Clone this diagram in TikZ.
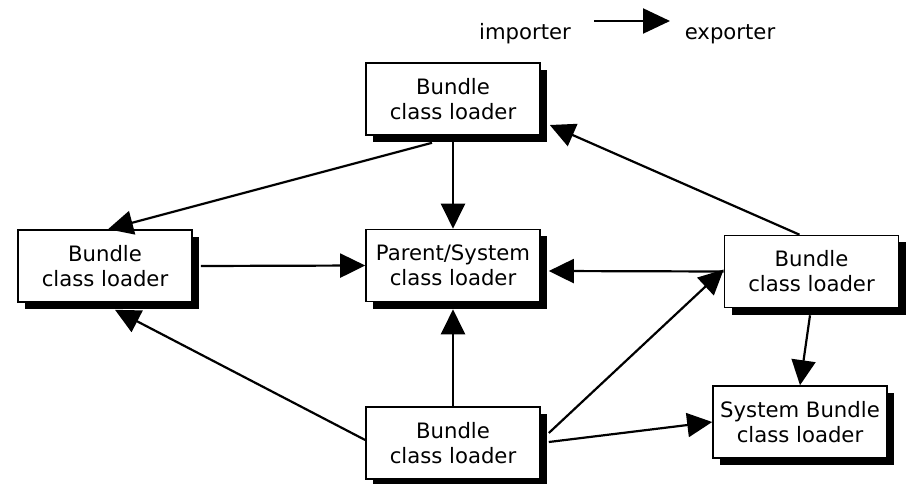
\documentclass[tikz,border=0pt]{standalone}
\usepackage{fontspec}
\setmainfont{DejaVu Sans}
\usetikzlibrary{arrows.meta,shadows,calc}
\begin{document}
\begin{tikzpicture}[x=1pt,y=-1pt,
  loader/.style={draw=black, line width=1.6pt, fill=white,
    minimum width=174pt, minimum height=72pt, inner sep=0pt,
    align=center, font=\fontsize{21.2}{25}\selectfont,
    drop shadow={shadow xshift=7pt, shadow yshift=-7pt, fill=black, opacity=1}},
  label/.style={font=\fontsize{21.2}{25}\selectfont, inner sep=0pt},
  arr/.style={line width=2.2pt, -{Triangle[length=25pt,width=24pt]}}]
\useasboundingbox (0,0) rectangle (906,484);

% legend
\node[label] (imp) at (525,34) {importer};
\node[label] (exp) at (730,34) {exporter};
\coordinate (la) at (594,21);
\coordinate (lb) at (670,21);
\draw[line width=2.2pt, -{Triangle[length=27pt,width=25pt]}] (la) -- (lb);

% class loaders
\node[loader] (top)    at (453,99)    {Bundle\\class loader};
\node[loader] (left)   at (105,266)   {Bundle\\class loader};
\node[loader] (center) at (453,265.5) {Parent/System\\class loader};
\node[loader] (right)  at (811.5,271.5) {Bundle\\class loader};
\node[loader] (sys)    at (800,422)   {System Bundle\\class loader};
\node[loader] (bottom) at (453,443)   {Bundle\\class loader};

% import relations
\draw[arr] (top.south) -- (center.north);
\draw[arr] ([xshift=-21pt,yshift=-7pt]top.south) -- ([xshift=3pt]left.north);
\draw[arr] ([xshift=8pt]left.east) -- (center.west);
\draw[arr] (right.west) -- ([xshift=8pt,yshift=-5.5pt]center.east);
\draw[arr] ([xshift=-12pt]right.north) -- ([xshift=9pt,yshift=-26pt]top.east);
\draw[arr] (bottom.north) -- ([yshift=-7pt]center.south);
\draw[arr] ([yshift=3pt]bottom.west) -- ([xshift=10pt,yshift=-7pt]left.south);
\draw[arr] ([xshift=8pt,yshift=10pt]bottom.east) -- ([yshift=2pt]right.west);
\draw[arr] ([xshift=8pt,yshift=1pt]bottom.east) -- (sys.west);
\draw[arr] ([xshift=-1.5pt,yshift=-7pt]right.south) -- (sys.north);
\end{tikzpicture}
\end{document}
